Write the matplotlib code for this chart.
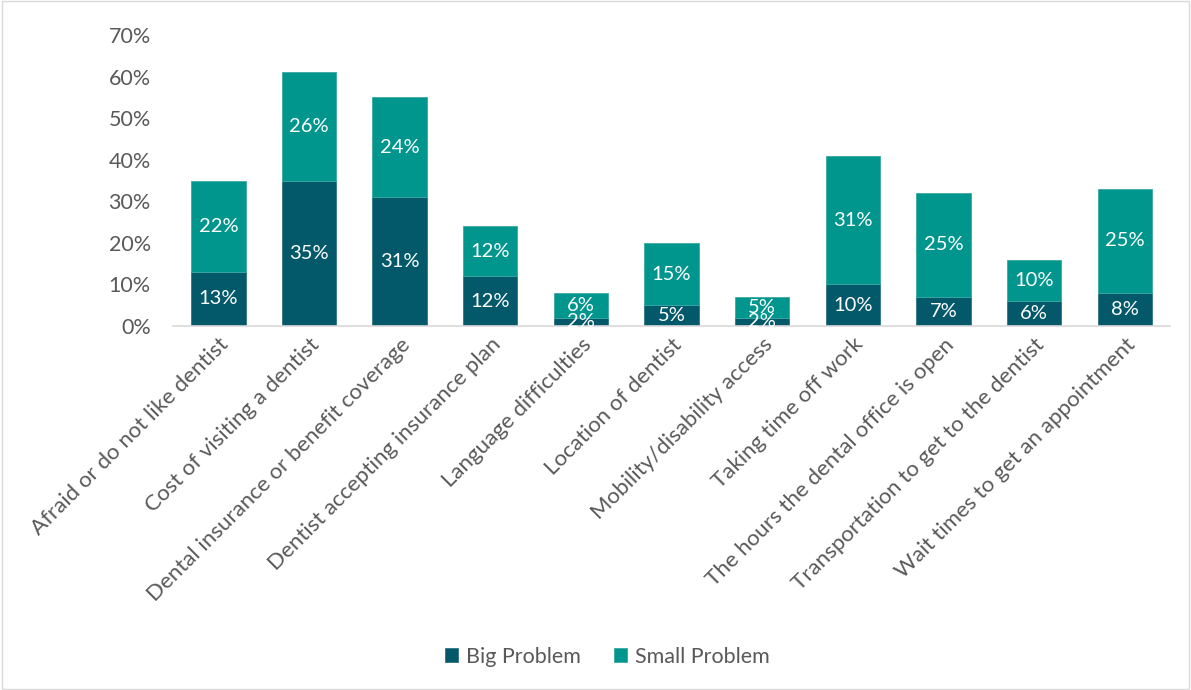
import matplotlib
matplotlib.use("Agg")
import matplotlib.pyplot as plt
from matplotlib.patches import Rectangle
import numpy as np

categories = [
    "Afraid or do not like dentist",
    "Cost of visiting a dentist",
    "Dental insurance or benefit coverage",
    "Dentist accepting insurance plan",
    "Language difficulties",
    "Location of dentist",
    "Mobility/disability access",
    "Taking time off work",
    "The hours the dental office is open",
    "Transportation to get to the dentist",
    "Wait times to get an appointment",
]
big_problem = [13, 35, 31, 12, 2, 5, 2, 10, 7, 6, 8]
small_problem = [22, 26, 24, 12, 6, 15, 5, 31, 25, 10, 25]
y_ticks = [0, 10, 20, 30, 40, 50, 60, 70]

DARK = "#03596A"
TEAL = "#00958D"
GRAY = "#595959"

plt.rcParams["font.family"] = ["Lato", "DejaVu Sans"]

fig = plt.figure(figsize=(11.91, 6.90), dpi=100)
ax = fig.add_axes([0.1453, 0.5275, 0.8371, 0.4218])

x = np.arange(len(categories))
big = np.array(big_problem)
small = np.array(small_problem)

b1 = ax.bar(x, big, width=0.6, color=DARK, edgecolor="#2f7583", linewidth=0.6,
            label="Big Problem")
b2 = ax.bar(x, small, width=0.6, bottom=big, color=TEAL, edgecolor="#3aa9a2",
            linewidth=0.6, label="Small Problem")

for xi, v in zip(x, big):
    ax.text(xi, v / 2, f"{v}%", ha="center", va="center", color="white", fontsize=14.5)
for xi, b, v in zip(x, big, small):
    ax.text(xi, b + v / 2, f"{v}%", ha="center", va="center", color="white", fontsize=14.5)

ax.set_xlim(-0.5, len(categories) - 0.5)
ax.set_ylim(0, 70)
ax.set_yticks(y_ticks)
ax.set_yticklabels([f"{t}%" for t in y_ticks])
ax.set_xticks(x)
ax.set_xticklabels(categories, rotation=45, ha="right", rotation_mode="anchor")

ax.tick_params(axis="y", length=0, pad=16, labelsize=15.5, labelcolor=GRAY)
ax.tick_params(axis="x", length=0, pad=6, labelsize=16, labelcolor=GRAY)

for s in ["top", "right", "left"]:
    ax.spines[s].set_visible(False)
ax.spines["bottom"].set_color("#D9D9D9")
ax.spines["bottom"].set_linewidth(1.2)

leg = fig.legend(handles=[b1, b2], labels=["Big Problem", "Small Problem"],
                 loc="center", bbox_to_anchor=(0.51, 0.048), ncol=2, frameon=False,
                 fontsize=15.5, handlelength=0.6, handleheight=0.6, handletextpad=0.4,
                 columnspacing=1.5)
for t in leg.get_texts():
    t.set_color(GRAY)

fig.patches.append(Rectangle((0.002, 0.002), 0.996, 0.996, transform=fig.transFigure,
                             fill=False, edgecolor="#D9D9D9", linewidth=1))

fig.savefig("out.png", dpi=100, facecolor="white")
